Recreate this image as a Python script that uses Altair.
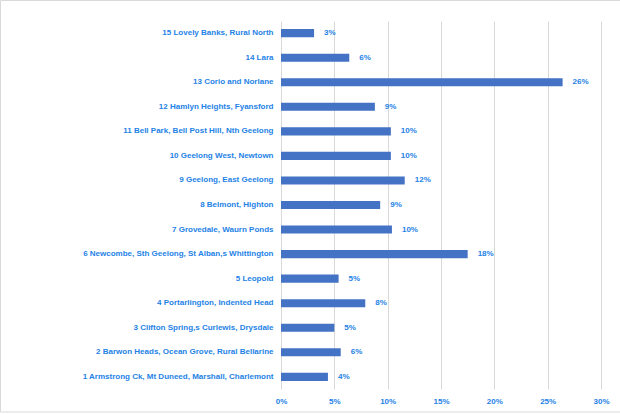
import altair as alt
import pandas as pd

areas = [
    "15 Lovely Banks, Rural North",
    "14 Lara",
    "13 Corio and Norlane",
    "12 Hamlyn  Heights, Fyansford",
    "11 Bell Park, Bell Post Hill, Nth Geelong",
    "10 Geelong  West, Newtown",
    "9 Geelong, East  Geelong",
    "8 Belmont, Highton",
    "7 Grovedale,  Waurn Ponds",
    "6 Newcombe,  Sth Geelong,  St Alban,s Whittington",
    "5 Leopold",
    "4 Portarlington, Indented Head",
    "3 Clifton Spring,s Curlewis,  Drysdale",
    "2 Barwon Heads, Ocean Grove, Rural Bellarine",
    "1 Armstrong Ck, Mt Duneed, Marshall,  Charlemont",
]
shares = [0.031, 0.064, 0.264, 0.088, 0.103, 0.103, 0.116, 0.093, 0.104, 0.175,
          0.054, 0.079, 0.050, 0.056, 0.044]

df = pd.DataFrame({"area": areas, "share": shares})

BLUE_TXT = "#1e82e6"
FONT = "Liberation Sans"

y_enc = alt.Y("area:N", sort=None, title=None,
              scale=alt.Scale(paddingInner=0.67, paddingOuter=0.33),
              axis=alt.Axis(labelColor=BLUE_TXT, labelFont=FONT, labelFontSize=8,
                            labelFontWeight="bold", ticks=False, domain=False,
                            labelPadding=8, labelLimit=300))
x_enc = alt.X("share:Q", title=None,
              scale=alt.Scale(domain=[0, 0.30], nice=False),
              axis=alt.Axis(format=".0%", values=[0, 0.05, 0.10, 0.15, 0.20, 0.25, 0.30],
                            labelColor=BLUE_TXT, labelFont=FONT, labelFontSize=8,
                            labelFontWeight="bold", ticks=False, domain=False,
                            labelFlush=False,
                            grid=True, gridColor="#d9d9d9", gridWidth=1, labelPadding=8))

base = alt.Chart(df)
bars = base.mark_bar(color="#4472C4").encode(x=x_enc, y=y_enc)
labels = base.mark_text(align="left", dx=10, color=BLUE_TXT, font=FONT,
                        fontSize=8, fontWeight="bold").encode(
    x="share:Q", y=alt.Y("area:N", sort=None),
    text=alt.Text("share:Q", format=".0%"))

border = alt.Chart(pd.DataFrame({"a": [0]})).mark_rect(
    fill=None, stroke="#d9d9d9", strokeWidth=1).encode(
    x=alt.value(-280.5), x2=alt.value(345), y=alt.value(-20.5), y2=alt.value(391))

chart = alt.layer(border, bars, labels).properties(
    width=320, height=368,
    autosize=alt.AutoSizeParams(type="none"),
    padding={"left": 281, "top": 21, "right": 19, "bottom": 25},
).configure_view(stroke=None)

chart.save("out.html", embed_options={"renderer": "svg", "actions": False})
